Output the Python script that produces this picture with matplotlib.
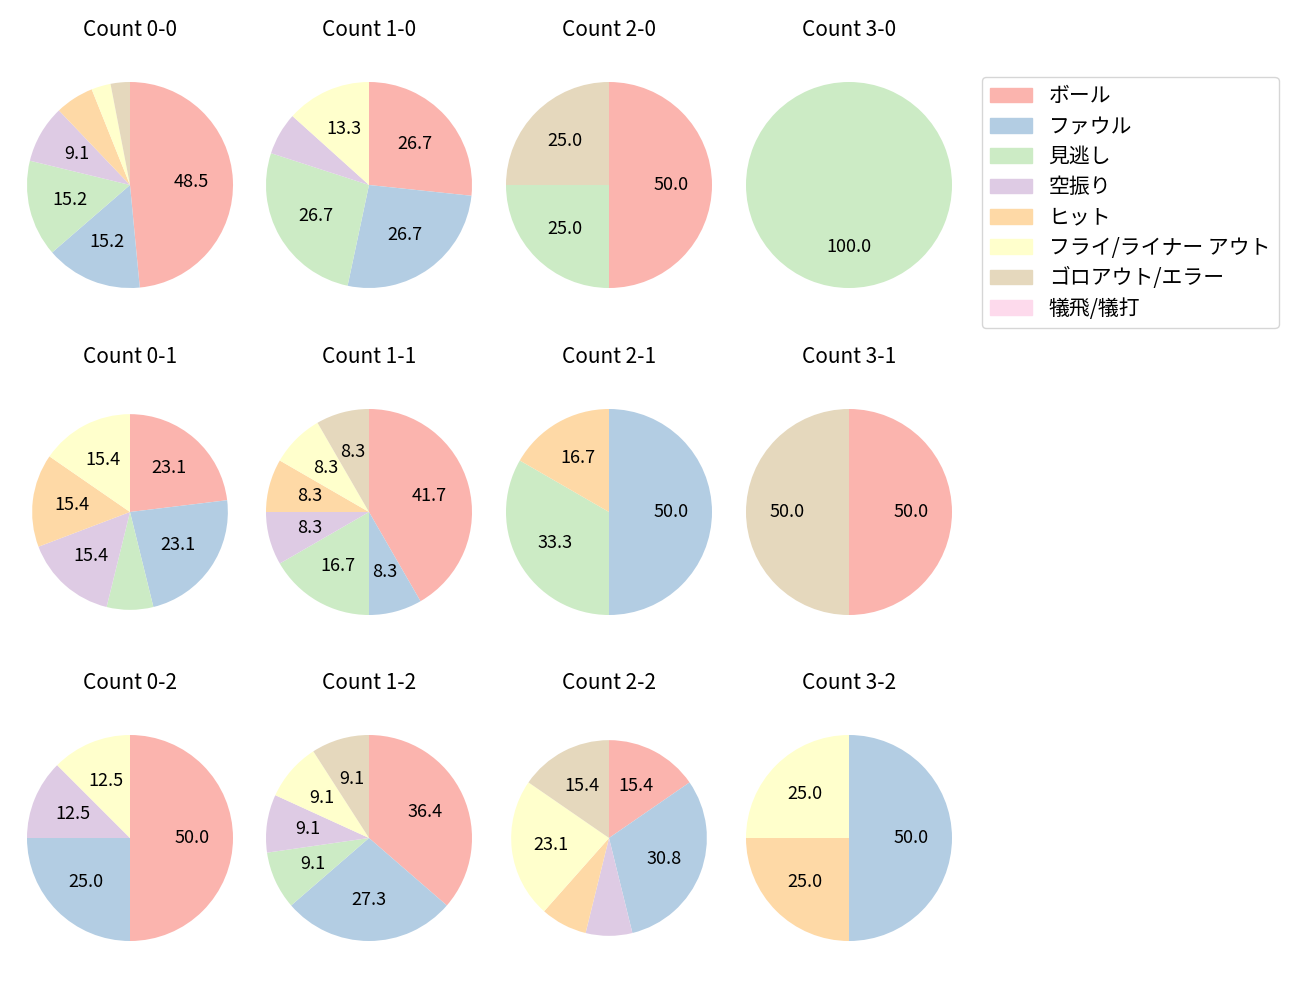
import matplotlib
matplotlib.use('Agg')
import matplotlib.pyplot as plt

plt.rcParams['font.family'] = ['Noto Sans CJK JP', 'DejaVu Sans']

labels = ['ボール', 'ファウル', '見逃し', '空振り', 'ヒット',
          'フライ/ライナー アウト', 'ゴロアウト/エラー', '犠飛/犠打']

# counts per result, same order as labels
counts = {
    '0-0': [16, 5, 5, 3, 2, 1, 1, 0],
    '1-0': [4, 4, 4, 1, 0, 2, 0, 0],
    '2-0': [2, 0, 1, 0, 0, 0, 1, 0],
    '3-0': [0, 0, 1, 0, 0, 0, 0, 0],
    '0-1': [3, 3, 1, 2, 2, 2, 0, 0],
    '1-1': [5, 1, 2, 1, 1, 1, 1, 0],
    '2-1': [0, 3, 2, 0, 1, 0, 0, 0],
    '3-1': [1, 0, 0, 0, 0, 0, 1, 0],
    '0-2': [4, 2, 0, 1, 0, 1, 0, 0],
    '1-2': [4, 3, 1, 1, 0, 1, 1, 0],
    '2-2': [2, 4, 0, 1, 1, 3, 2, 0],
    '3-2': [0, 2, 0, 0, 1, 1, 0, 0],
}

colors = plt.get_cmap('Pastel1').colors[:8]

W, H = 1300, 1000
fig = plt.figure(figsize=(13, 10), dpi=100)

col_x = [130, 369, 609, 849]
row_y = [185, 512, 838]
R = 103
lim = 1.1
half = R * lim
# a couple of pies come out a bit smaller in the original
small = {'0-1': 0.95, '2-2': 0.95}

def fmt(p):
    return '%.1f' % p if p > 8 else ''

for strikes in range(3):
    for balls in range(4):
        key = f'{balls}-{strikes}'
        cx, cy = col_x[balls], row_y[strikes]
        ax = fig.add_axes([(cx - half) / W, 1 - (cy + half) / H, 2 * half / W, 2 * half / H])
        vals = counts[key]
        ax.pie(vals, colors=colors, startangle=90, counterclock=False,
               radius=small.get(key, 1.0),
               autopct=fmt, pctdistance=0.6, textprops={'fontsize': 13})
        ax.set_xlim(-lim, lim)
        ax.set_ylim(-lim, lim)
        ax.set_title(f'Count {key}', fontsize=15, pad=26)

handles = [plt.Rectangle((0, 0), 1, 1, color=c) for c in colors]
fig.legend(handles, labels, loc='upper left', bbox_to_anchor=(982 / W, 1 - 77 / H),
           borderaxespad=0, fontsize=15, labelspacing=0.4)

fig.savefig('out.png', dpi=100)
